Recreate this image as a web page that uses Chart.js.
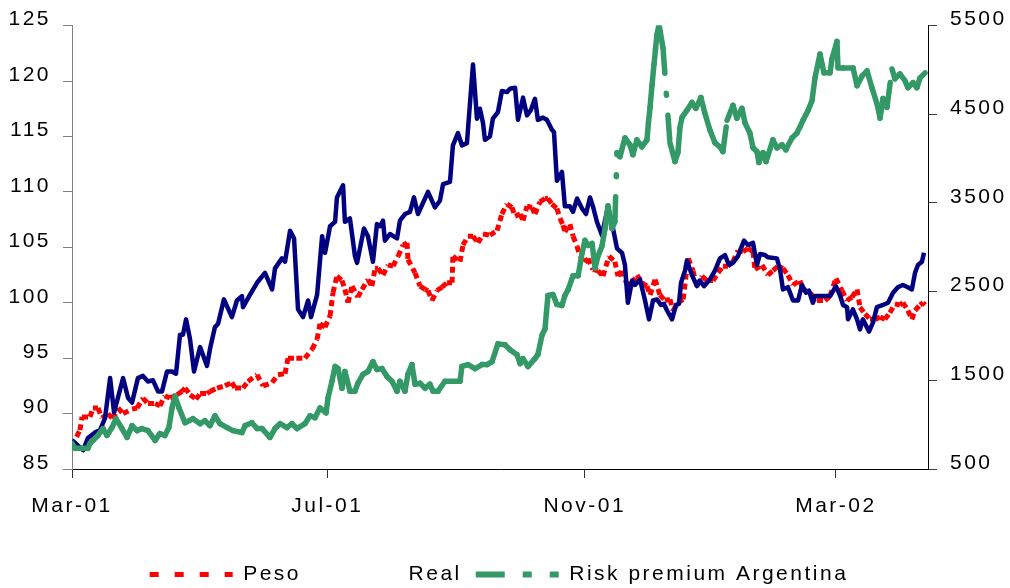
<!DOCTYPE html>
<html>
<head>
<meta charset="utf-8">
<script src="https://cdn.jsdelivr.net/npm/chart.js@4.4.0/dist/chart.umd.min.js"></script>
<style>
  html, body { margin: 0; padding: 0; background: #fff; }
</style>
</head>
<body>
<canvas id="chart" width="1010" height="588"></canvas>
<script>
// x values are days counted from 1 Mar 2001
const tickLabels = ['Mar-01', 'Jul-01', 'Nov-01', 'Mar-02'];
const tickDays = [0, 122, 245, 365];

const pesoDays = [0,3.8,4.8,8.6,10,12.4,14.3,17.2,19.6,22,24.4,28.7,31.1,33.9,36.3,39.7,42,44.4,46.8,50.2,
  52.6,54,56.4,59.2,61.2,64.5,65.9,69.3,73.1,76.4,77.9,81.7,84.1,88.4,91.3,95.6,98.4,101.8,103.2,107.2,111.3,
  114.7,117.1,118.5,120.9,123.3,124.7,126.6,129,130.4,131.9,133.8,136.6,138.6,141.4,143.3,144.8,146.2,148.6,151,153.4,
  155.8,158.2,160.1,160.5,163.9,166.3,168.7,170.1,172,174.4,176.8,179.2,181.6,182,185.4,186.8,189.2,191.6,194,196.4,
  199.7,203.1,205.4,207.8,210.2,211.7,214.1,215.5,217.4,219.8,221.2,223.6,226,227.4,229.3,231.7,233.2,234.6,235.5,237.9,
  239.4,241.3,242.7,245.1,246.6,248.9,251.3,253.7,256.6,259.4,260.9,262.8,265.2,267.6,270,272.3,274.7,276.2,278.6,280.9,
  283.3,285.7,287.2,289.6,292,294.4,296.7,298.6,301,303.4,306.3,308.7,311,313.4,315.8,318.2,320.6,323,325.4,326.3,
  329.7,332.5,334.9,337.3,339.7,342.1,344.5,347.8,349.3,352.6,356,359.8,362.2,365,367.9,370.3,372.7,375.1,376.5,378.9,
  381.3,383.7,386.1,388.4,390.8,393.2,395.6,397,399.4,401.3,402.8,405.2,406.6,407.6];
const pesoValues = [87.1,88.5,89.7,89.7,90.5,90.5,89.6,90.0,89.5,90.5,90.0,90.4,90.5,91.4,90.9,90.9,90.7,91.6,91.4,91.7,
  92.0,92.3,91.7,91.3,91.8,91.8,92.0,92.3,92.5,92.8,92.3,92.3,92.9,93.5,92.5,92.8,93.5,93.6,95.0,95.0,95.0,
  95.8,96.7,98.1,97.8,98.8,100.9,102.4,102.0,101.2,100.0,101.5,100.5,101.2,102.1,101.5,103.1,103.1,102.5,103.4,103.3,
  104.2,105.2,105.4,103.9,102.7,101.5,101.2,101.1,100.2,101.1,101.4,101.8,101.8,104.2,103.7,105.2,106.0,106.0,105.4,106.2,
  106.1,106.5,108.0,108.9,108.6,107.8,108.0,107.4,108.7,108.6,108.0,109.1,109.4,109.4,108.9,108.5,107.6,107.0,106.4,107.1,
  106.0,105.1,104.2,103.6,104.0,103.0,102.9,102.4,104.2,103.7,102.4,102.9,101.6,101.8,102.5,101.8,101.5,100.7,102.1,100.7,
  100.2,100.3,99.3,100.0,100.3,104.0,102.9,101.5,102.4,102.0,102.0,102.7,103.3,103.3,103.7,104.7,104.6,104.9,104.6,103.0,
  103.4,102.5,102.9,103.3,103.1,102.5,101.6,102.0,101.2,100.9,100.2,100.2,100.6,102.2,101.1,100.2,100.5,101.2,99.6,99.0,
  98.5,98.5,98.7,98.5,99.1,99.9,99.8,100.0,99.3,98.5,99.3,99.8,100.0,99.8];

const realDays = [0,5.3,7.6,11,13.4,15.8,18.2,20.1,24.4,26.8,28.7,31.5,33.9,36.3,38.7,41.1,43,45.4,47.8,49.7,
  51.6,53,54.5,56.4,58.3,61.2,64.5,65.9,68.3,69.8,72.6,76.4,78.8,81.2,81.7,85,88.4,92.2,95.6,97,
  100.3,101.8,104.2,106.1,108,110.4,112.8,114.2,117.1,119.5,120.9,123.3,125.7,126.6,129.5,130.4,132.8,135.2,136.2,139.5,
  141.4,143.8,145.7,147.2,148.6,149.5,151.9,155.3,156.7,159.1,161.5,163.4,165.3,170.1,173.4,175.8,177.3,180.6,182,184.4,
  186.3,188.7,190.2,191.6,193.5,194.9,196.4,197.3,199.7,201.1,203.5,205.4,207.8,209.3,211.7,213.1,215.5,217.4,219.3,221.2,
  222.6,225,226.9,229.3,230.3,231.7,234.1,235.5,237.9,239.4,241.3,243.7,245.6,247.5,248.9,250.8,253.2,256.1,258.5,260.4,
  262.8,264.2,265.6,267.6,269,271.4,273.8,275.7,277.6,279.5,281.4,282.8,284.3,286.7,288.6,290,291,292.9,293.8,296.2,
  298.6,300,302,304.8,307.2,309.6,312,313.9,315.8,318.2,321.1,323,325.4,327.3,328.7,331.1,332.5,336.8,338.3,339.7,
  342.1,344.5,346.9,348.8,350.7,352.1,354,355,362.2,365,366.9,368.4,370.3,370.8,373.1,375.1,376.5,377.9,380.8,382.7,
  384.6,387.5,389.9,392.3,394.6,397,399.4,401.3,402.8,404.2,406.1,407.1];
const realValues = [87.6,86.7,87.8,88.3,88.5,89.6,93.2,90.1,93.2,91.4,91.0,93.2,93.4,92.9,93.0,92.0,92.0,93.8,93.8,93.6,
  97.1,97.1,98.5,96.7,93.8,96.0,94.3,95.8,97.8,98.1,100.3,98.7,100.2,100.6,99.6,100.7,101.8,102.7,101.2,103.1,
  104.0,103.7,106.5,105.8,99.4,98.7,100.2,98.7,100.7,106.0,104.5,106.9,107.3,109.5,110.6,107.3,107.6,104.2,103.6,106.7,
  106.0,103.7,107.1,106.9,107.4,105.6,106.2,105.8,107.4,108.0,108.2,109.5,108.0,110.0,108.6,109.2,110.7,110.9,114.2,115.3,
  114.2,114.4,118.1,121.5,116.6,117.5,116.2,114.7,115.0,116.6,117.2,119.1,119.0,119.3,119.4,116.5,118.5,116.9,117.4,118.4,
  116.5,116.7,116.5,115.6,115.4,111.0,111.8,108.7,108.7,108.2,109.4,108.5,108.0,109.5,108.7,107.3,106.1,108.7,106.7,104.9,
  104.5,103.4,100.0,102.0,101.6,102.1,100.2,98.5,100.2,100.3,99.8,99.9,99.3,98.5,99.8,99.9,101.8,102.9,103.8,102.5,
  101.5,102.0,101.5,102.1,102.9,104.0,104.3,103.4,103.6,104.2,105.6,105.2,105.4,103.4,104.4,104.3,104.1,104.0,103.0,101.2,
  101.4,100.2,100.2,101.6,100.9,101.1,100.0,100.6,100.6,101.5,100.7,99.8,99.6,98.5,99.4,98.5,97.6,98.5,97.4,98.2,
  99.6,99.8,100.0,100.9,101.4,101.6,101.4,101.2,102.7,103.4,103.7,104.5];

const riskDays = [0,1.4,5.3,7.6,8.6,10,12.4,14.8,16.7,19.1,21,23.9,26.3,28.7,31.1,33.4,36.3,39.7,42,44.4,
  46.3,47.8,49.2,51.1,54,57.8,61.2,63.5,65.9,68.3,70.7,74.1,76.9,81.2,82.7,86,88.4,90.8,94.6,97,
  99.4,102.7,105.1,107.5,111.3,113.7,116.1,118.5,121.4,122.3,124.2,125.7,127.1,129,130.4,132.8,135.2,136.6,139,141.4,
  143.8,145.7,148.1,150.5,152.9,155.3,156.7,159.1,160.5,162.4,163.9,166.3,168.7,171,172.5,174.9,178.2,185.4,186.3,189.2,
  192.6,195.9,198.3,200.7,203.5,206.9,209.3,212.6,214.1,215.5,217.9,221.2,222.6,224.6,226,226.7,227.4,229.8,231.7,234.1,
  235.5,237,239.4,241.8,243.7,245.1,246.6,248.5,249.9,251.3,253.2,254.7,256.1,258,259.4,260.4,261.8,264.2,266.6,268,
  269.9,272.3,274.7,275.4,276.2,277.1,278.1,278.8,279.5,280.5,282.4,285.7,288.1,289.5,290.5,291.5,293.8,296.2,298.1,300.5,
  302.4,304.8,307.2,309.6,311,313,315.8,317.7,320.1,321.6,323.9,325.4,327.3,328.2,330.2,331.6,334.9,336.8,339.2,341.1,
  344,346.4,347.8,349.3,351.7,353.6,355,357.4,359.3,362.2,363.1,365.5,366,368.4,373.2,375.1,377.5,379.9,382.2,384.6,
  386.1,387.5,389.4,391.8,393.2,395.6,398,399.4,401.8,403.7,405.2,407.6];
const riskValues = [789,733,733,733,789,822,878,956,878,967,1067,956,856,989,933,956,933,822,900,878,
  967,1189,1322,1189,1022,1067,1011,1044,989,1100,1011,967,933,911,989,1022,956,956,856,956,
  1011,967,1011,956,1011,1100,1078,1189,1133,1300,1489,1656,1633,1411,1600,1378,1378,1467,1567,1600,
  1711,1622,1633,1544,1489,1378,1489,1378,1567,1678,1456,1467,1411,1456,1378,1378,1489,1489,1656,1678,
  1633,1678,1678,1711,1911,1900,1844,1789,1689,1744,1656,1744,1789,2011,2078,2267,2456,2467,2356,2344,
  2456,2522,2678,2678,2933,3078,3022,3044,2767,2900,3011,3211,3467,3211,3289,4067,4022,4233,4156,4044,
  4211,4133,4211,4400,4578,4822,5067,5233,5400,5511,5244,4178,3967,4067,4356,4467,4544,4633,4567,4689,
  4511,4322,4178,4133,4078,4433,4600,4456,4567,4400,4289,4122,4078,3956,4067,3967,4211,4122,4156,4100,
  4233,4289,4356,4433,4544,4656,4911,5178,4967,4967,5122,5322,5022,5022,5022,4822,4933,4989,4800,4622,
  4456,4678,4578,5011,4900,4956,4878,4800,4856,4800,4911,4967];

const toPoints = (days, values) => days.map((d, i) => ({ x: d, y: values[i] }));

// old spreadsheet style: the dash pattern starts again on every segment
const restartDash = { borderDashOffset: ctx => (ctx.p0DataIndex % 2) * 0.01 };

const PLOT_BOTTOM = 469;
const LEGEND_SHIFT = 7;

// canvas letter spacing, the original text is set wide
const spacing = {
  id: 'spacing',
  beforeUpdate(chart) { chart.ctx.letterSpacing = '2.5px'; },
  beforeDraw(chart) { chart.ctx.letterSpacing = '2.5px'; },
  // legend row sits a little left of centre in the original
  afterLayout(chart) { if (chart.legend) chart.legend.right -= 12; },
};

const legendLook = [
  { lineDash: [9, 16], lineWidth: 5, lineCap: 'butt' },
  { strokeStyle: 'rgba(0,0,0,0)' },
  { lineDash: [29, 18, 9, 18], lineWidth: 6, lineCap: 'butt' },
];

Chart.defaults.font.family = "'Liberation Sans', Arial, sans-serif";
Chart.defaults.font.size = 21;
Chart.defaults.color = '#000';

new Chart(document.getElementById('chart').getContext('2d'), {
  type: 'line',
  data: {
    datasets: [
      {
        label: 'Peso',
        data: toPoints(pesoDays, pesoValues),
        yAxisID: 'y',
        borderColor: '#ff0000',
        borderWidth: 5,
        borderDash: [6, 4],
        borderCapStyle: 'butt',
        segment: restartDash,
        order: 2,
      },
      {
        label: 'Real',
        data: toPoints(realDays, realValues),
        yAxisID: 'y',
        borderColor: '#000080',
        borderWidth: 4.5,
        borderJoinStyle: 'round',
        order: 1,
      },
      {
        label: 'Risk premium Argentina',
        data: toPoints(riskDays, riskValues),
        yAxisID: 'y1',
        borderColor: '#339966',
        borderWidth: 5.5,
        borderDash: [25, 20, 2, 20],
        borderCapStyle: 'round',
        segment: restartDash,
        order: 0,
      },
    ],
  },
  options: {
    responsive: false,
    animation: false,
    events: [],
    elements: { point: { radius: 0 }, line: { tension: 0, fill: false } },
    layout: { padding: { top: 19, left: 0, right: 0, bottom: -LEGEND_SHIFT } },
    scales: {
      x: {
        type: 'linear',
        min: 0,
        max: 409,
        afterBuildTicks: s => { s.ticks = tickDays.map(v => ({ value: v })); },
        afterFit: s => {
          const lh = s.chart.legend ? s.chart.legend.height : 45;
          s.height = 588 + LEGEND_SHIFT - lh - PLOT_BOTTOM;
        },
        ticks: { callback: (v, i) => tickLabels[i], maxRotation: 0, autoSkip: false, padding: 16 },
        grid: { drawOnChartArea: false, tickLength: 9, color: '#333' },
        border: { color: '#000' },
      },
      y: {
        position: 'left',
        min: 85,
        max: 125,
        afterFit: s => { s.width = 72; },
        ticks: { stepSize: 5, padding: 12, labelOffset: -6 },
        grid: { drawOnChartArea: false, tickLength: 9, color: '#808080' },
        border: { color: '#808080' },
      },
      y1: {
        position: 'right',
        min: 500,
        max: 5500,
        afterFit: s => { s.width = 82; },
        ticks: { stepSize: 1000, padding: 13, labelOffset: -6, callback: v => String(v) },
        grid: { drawOnChartArea: false, tickLength: 9, color: '#404040' },
        border: { color: '#000' },
      },
    },
    plugins: {
      tooltip: { enabled: false },
      legend: {
        position: 'bottom',
        labels: {
          usePointStyle: true,
          pointStyle: 'line',
          pointStyleWidth: 83,
          padding: 14,
          sort: (a, b) => a.datasetIndex - b.datasetIndex,
          generateLabels(chart) {
            const items = Chart.defaults.plugins.legend.labels.generateLabels(chart);
            items.forEach(it => Object.assign(it, legendLook[it.datasetIndex]));
            return items;
          },
        },
      },
    },
  },
  plugins: [spacing],
});
</script>
</body>
</html>
